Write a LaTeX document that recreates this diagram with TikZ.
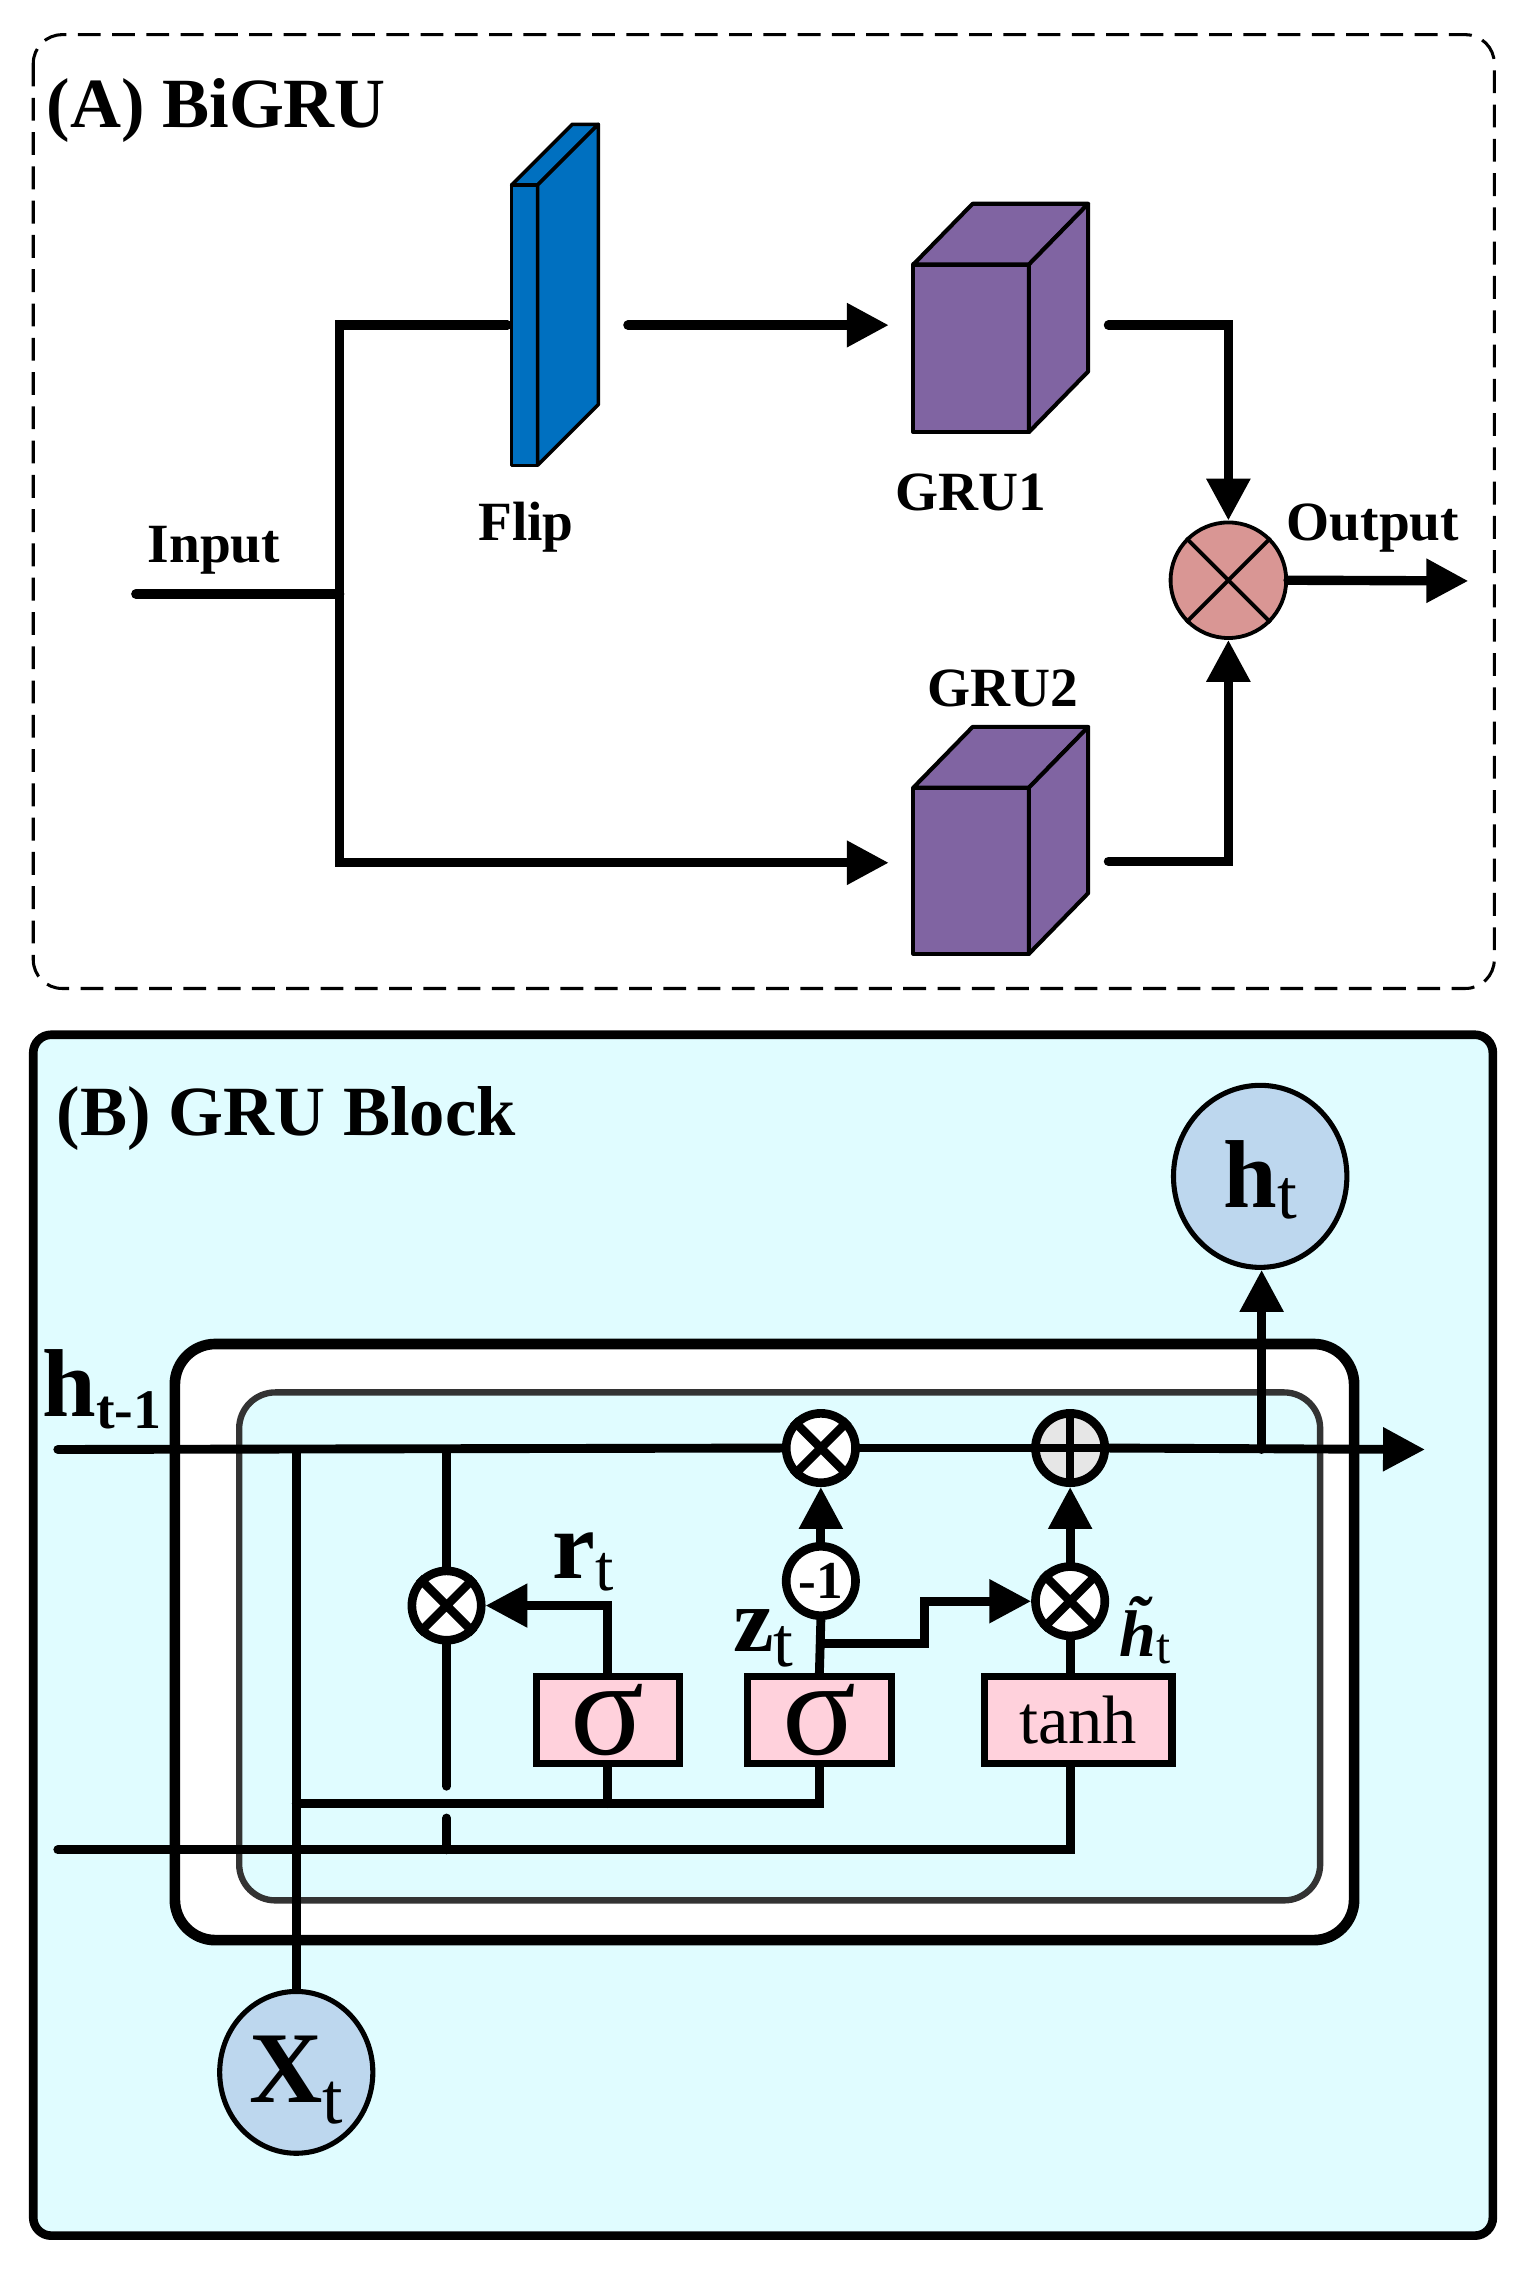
\documentclass[tikz,border=0pt]{standalone}
\usepackage{fontspec}
\setmainfont{Liberation Serif}
\usetikzlibrary{arrows.meta,shapes.geometric,calc}
\definecolor{flipblue}{HTML}{0070C0}
\definecolor{grupurple}{HTML}{8064A2}
\definecolor{mulpink}{HTML}{D99694}
\definecolor{cyanbg}{HTML}{E0FCFF}
\definecolor{boxpink}{HTML}{FFD1DC}
\definecolor{nodeblue}{HTML}{BDD7EE}
\definecolor{plusgray}{HTML}{E6E6E6}
\definecolor{innergray}{HTML}{333333}
\newcommand{\fs}[1]{\fontsize{#1}{#1}\selectfont}
\begin{document}
\begin{tikzpicture}[x=0.02cm,y=-0.02cm,
  wireA/.style={line width=3.7pt, line cap=round},
  wireB/.style={line width=3.5pt, line cap=round},
  arr/.style={-{Triangle[length=16.5pt,width=16.5pt]}},
  lblA/.style={font=\fs{21.8}\bfseries, anchor=base, inner sep=0},
  titlelbl/.style={font=\fs{27.8}\bfseries, anchor=base west, inner sep=0},
  cubeface/.style={draw, line width=1.6pt, fill=grupurple, line join=round},
  flipface/.style={draw, line width=1.4pt, fill=flipblue, line join=round},
  op/.style={circle, draw, line width=3.4pt, fill=white, minimum size=0.96cm, inner sep=0},
  gate/.style={rectangle, draw, line width=2.8pt, fill=boxpink, minimum height=1.2cm, inner sep=0},
  io/.style={ellipse, draw, line width=2pt, fill=nodeblue, inner sep=0},
  mathlbl/.style={anchor=base west, inner sep=0},
]
\useasboundingbox (0,0) rectangle (1052,1577);

% ---------------- Panel A ----------------
\draw[dash pattern=on 9pt off 4.5pt, line width=1.2pt, rounded corners=0.4cm] (23,24) rectangle (1034,684);
\node[titlelbl] (titA) at (32,88) {(A) BiGRU};

% Flip
\node[flipface, rectangle, minimum width=0.36cm, minimum height=3.88cm, inner sep=0, outer sep=0] (flip) at (363,225) {};
\draw[flipface] (flip.north west) -- ++(42,-42) -- ++(18,0) -- (flip.north east) -- cycle;
\draw[flipface] (flip.north east) -- ++(42,-42) -- ++(0,194) -- (flip.south east) -- cycle;
\node[lblA] (fliplbl) at (364,374) {Flip};

% GRU cubes
\node[cubeface, rectangle, minimum width=1.6cm, minimum height=2.32cm, inner sep=0, outer sep=0] (gru1) at (672,241) {};
\draw[cubeface] (gru1.north west) -- ++(41,-42) -- ++(80,0) -- (gru1.north east) -- cycle;
\draw[cubeface] (gru1.north east) -- ++(41,-42) -- ++(0,116) -- (gru1.south east) -- cycle;
\node[lblA] (gru1lbl) at (672,353) {GRU1};

\node[cubeface, rectangle, minimum width=1.6cm, minimum height=2.3cm, inner sep=0, outer sep=0] (gru2) at (672,602.5) {};
\draw[cubeface] (gru2.north west) -- ++(41,-42) -- ++(80,0) -- (gru2.north east) -- cycle;
\draw[cubeface] (gru2.north east) -- ++(41,-42) -- ++(0,115) -- (gru2.south east) -- cycle;
\node[lblA] (gru2lbl) at (694,489) {GRU2};

% multiply node
\node[circle, draw, line width=1.5pt, fill=mulpink, minimum size=1.6cm, inner sep=0] (mul) at (850,401.5) {};
\draw[line width=1.5pt] (mul.north east) -- (mul.south west) (mul.north west) -- (mul.south east);

\node[lblA] (inlbl) at (148,389) {Input};
\node[lblA] (outlbl) at (950,374) {Output};

% connectors A
\coordinate (inA) at (94,411);
\coordinate (jA) at (235,411);
\coordinate (tA) at (235,225);
\coordinate (bA) at (235,597);
\coordinate (g2in) at (615,597);
\coordinate (fout) at (434.5,225);
\coordinate (g1in) at (615,225);
\coordinate (g1out) at (767,225);
\coordinate (g2out) at (767,596);
\coordinate (outA) at (1016,402);
\draw[wireA] (inA) -- (jA);
\draw[wireA, arr] ($(flip.west)+(-3,0)$) -- (tA) -- (bA) -- (g2in);
\draw[wireA, arr] (fout) -- (g1in);
\draw[wireA, arr] (g1out) -- (g1out -| mul) -- (mul.north);
\draw[wireA, arr] (g2out) -- (g2out -| mul) -- (mul.south);
\draw[wireA, arr] (mul.east) -- (outA);

% ---------------- Panel B ----------------
\draw[line width=3.4pt, fill=cyanbg, rounded corners=0.25cm] (23,716) rectangle (1033,1547);
\node[titlelbl] (titB) at (39,786) {(B) GRU Block};
\draw[line width=4.2pt, fill=white, rounded corners=0.56cm] (121,930) rectangle (937,1342.5);
\draw[line width=2.5pt, draw=innergray, fill=cyanbg, rounded corners=0.5cm] (165.5,963.5) rectangle (913.5,1315);

% nodes
\node[op] (mr) at (309,1111) {};
\node[op] (mz) at (568,1002) {};
\node[op, fill=plusgray] (pl) at (740.5,1002) {};
\node[op] (neg) at (568,1094) {\fs{21}\bfseries -1};
\node[op] (mh) at (740.5,1108) {};
\node[gate, minimum width=1.98cm] (sr) at (420.5,1190) {\fs{54}\raisebox{-4pt}{σ}};
\node[gate, minimum width=2cm] (sz) at (567,1190) {\fs{54}\raisebox{-4pt}{σ}};
\node[gate, minimum width=2.6cm] (th) at (746,1190) {\fs{27}tanh};
\node[io, minimum width=2.12cm, minimum height=2.24cm, text height=26pt, text depth=2pt] (xt) at (205,1434) {{\fs{40}\bfseries X}\raisebox{-8pt}{\fs{29}t}};
\node[io, minimum width=2.4cm, minimum height=2.52cm, text height=25pt, text depth=0.5pt] (ht) at (872,814) {{\fs{38}\bfseries h}\raisebox{-4.5pt}{\fs{28}t}};

% operator symbols
\foreach \n in {mr,mz,mh}{
  \draw[line width=3.4pt, line cap=butt] (\n.north east) -- (\n.south west) (\n.north west) -- (\n.south east);
}
\draw[line width=3.4pt, line cap=butt] (pl.north) -- (pl.south) (pl.west) -- (pl.east);

% wires B
\coordinate (hin) at (40,1003);
\coordinate (hout) at (986,1003);
\coordinate (htap) at (873,1003);
\coordinate (rtap) at (309,1003);
\coordinate (xtap) at (205,1003);
\coordinate (xj) at (205,1248);
\coordinate (rgapa) at (309,1236);
\coordinate (rgapb) at (309,1258);
\coordinate (rbot) at (309,1280);
\coordinate (zb) at (568,1137);
\coordinate (zba) at (640,1137);
\coordinate (zbb) at (640,1108);
\coordinate (bin) at (40,1280);

\draw[wireB] (hin) -- (mz.west);
\draw[wireB] (mz.east) -- (pl.west);
\draw[wireB, arr] (pl.east) -- (hout);
\draw[wireB, arr] (htap) -- (htap |- ht.south);
\draw[wireB] (rtap) -- (mr.north);
\draw[wireB] (mr.south) -- (rgapa);
\draw[wireB] (rgapb) -- (rbot);
\draw[wireB, arr] (sr.north) -- (sr.north |- mr.east) -- (mr.east);
\draw[wireB] (xtap) -- (xt.north);
\draw[wireB] (xj) -- (xj -| sz.south) -- (sz.south);
\draw[wireB] (sr.south) -- (sr.south |- xj);
\draw[wireB] (sz.north) -- (neg.south);
\draw[wireB, arr] (neg.north) -- (mz.south);
\draw[wireB, arr] (zb) -- (zba) -- (zbb) -- (mh.west);
\draw[wireB] (th.north -| mh) -- (mh.south);
\draw[wireB, arr] (mh.north) -- (pl.south);
\draw[wireB] (bin) -- (bin -| mh) -- (th.south -| mh);

% labels B
\node[mathlbl] (lh1) at (29,980) {{\fs{38}\bfseries h}\raisebox{-5pt}{\fs{22}\bfseries t-1}};
\node[mathlbl] (lr) at (382,1092.5) {{\fs{38}\bfseries r}\raisebox{-4.6pt}{\fs{26}t}};
\node[mathlbl] (lz) at (507,1142.8) {{\fs{36}\bfseries z}\raisebox{-5.7pt}{\fs{28}t}};
\node[mathlbl] (lhh) at (774.6,1146) {{\fs{26}\bfseries\itshape \~{h}}\raisebox{-2.9pt}{\fs{20}t}};
\end{tikzpicture}
\end{document}
